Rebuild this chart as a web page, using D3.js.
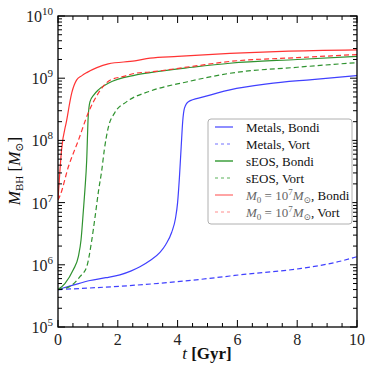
<!DOCTYPE html>
<html><head><meta charset="utf-8">
<script src="https://cdn.jsdelivr.net/npm/d3@7"></script>
<style>body{margin:0;background:#fff}svg{display:block}text{font-family:"Liberation Serif","DejaVu Serif",serif;}</style>
</head><body><svg id="c" width="374" height="374"></svg>
<script>
// ---- data (t in Gyr, M_BH in solar masses) ----
const metalsBondiT = [0, 0.5, 1.07, 1.6, 2.07, 2.45, 2.74, 3.08, 3.41, 3.6, 3.8, 3.93, 4.0, 4.06, 4.12, 4.17, 4.23, 4.36, 4.86, 5.75, 7, 8.5, 10];
const metalsBondiM = [4.0e5, 4.7e5, 5.6e5, 6.2e5, 6.9e5, 8.0e5, 9.3e5, 1.17e6, 1.58e6, 2.1e6, 3.3e6, 5.6e6, 1.0e7, 2.5e7, 7.9e7, 2.0e8, 3.3e8, 4.2e8, 5.0e8, 6.5e8, 8.1e8, 9.5e8, 1.1e9];
const metalsVortT = [0, 2.58, 4.08, 5.75, 6.09, 8.09, 9.3, 10];
const metalsVortM = [4.0e5, 4.7e5, 5.4e5, 6.6e5, 6.9e5, 8.7e5, 1.1e6, 1.35e6];
const seosBondiT = [0, 0.23, 0.51, 0.68, 0.77, 0.85, 0.9, 0.96, 1.01, 1.07, 1.2, 1.35, 1.68, 2.58, 3.08, 4.5, 5.75, 8, 10];
const seosBondiM = [4.0e5, 5.0e5, 8.3e5, 1.35e6, 2.5e6, 7.6e6, 1.6e7, 4.8e7, 2.4e8, 4.2e8, 5.4e8, 6.5e8, 8.3e8, 1.12e9, 1.23e9, 1.5e9, 1.74e9, 2.0e9, 2.24e9];
const seosVortT = [0, 0.4, 0.74, 0.96, 1.13, 1.24, 1.36, 1.46, 1.55, 1.68, 1.9, 2.3, 3.08, 4.3, 5.75, 8, 10];
const seosVortM = [4.0e5, 4.5e5, 6.5e5, 9.3e5, 2.5e6, 5.9e6, 1.6e7, 3.2e7, 7.1e7, 1.6e8, 2.8e8, 4.2e8, 6.2e8, 8.7e8, 1.2e9, 1.5e9, 1.78e9];
const m0BondiT = [0, 0.12, 0.29, 0.46, 0.62, 0.8, 0.96, 1.3, 1.68, 2.57, 3.08, 4, 5.75, 7.5, 10];
const m0BondiM = [1.1e7, 7.1e7, 2.1e8, 5.8e8, 9.3e8, 1.1e9, 1.23e9, 1.48e9, 1.7e9, 1.9e9, 2.1e9, 2.24e9, 2.5e9, 2.7e9, 2.85e9];
const m0VortT = [0, 0.07, 0.35, 0.68, 1.01, 1.35, 1.74, 2.2, 2.58, 3.08, 4.5, 5.75, 8, 10];
const m0VortM = [1.1e7, 1.3e7, 3.8e7, 1.0e8, 2.75e8, 5.75e8, 9.3e8, 1.07e9, 1.2e9, 1.26e9, 1.55e9, 1.86e9, 2.14e9, 2.4e9];
const xTicks = [0, 2, 4, 6, 8, 10];
const yExponents = [5, 6, 7, 8, 9, 10];
const legendLabels = ["Metals, Bondi", "Metals, Vort", "sEOS, Bondi", "sEOS, Vort", "M0 Bondi", "M0 Vort"];

const series = [
  {t: metalsBondiT, m: metalsBondiM, color: "#4040ff", lcolor: "#7272ff", dash: null},
  {t: metalsVortT, m: metalsVortM, color: "#4040ff", lcolor: "#7272ff", dash: "5,3"},
  {t: seosBondiT, m: seosBondiM, color: "#2f922f", lcolor: "#4aa64a", dash: null},
  {t: seosVortT, m: seosVortM, color: "#2f922f", lcolor: "#5ab25a", dash: "5,3"},
  {t: m0BondiT, m: m0BondiM, color: "#ff3434", lcolor: "#ff8e8e", dash: null},
  {t: m0VortT, m: m0VortM, color: "#ff3434", lcolor: "#ff8e8e", dash: "5,3"}
];

const svg = d3.select("#c");
const L = 58, R = 357, T = 16, B = 327;
const x = d3.scaleLinear().domain([0, 10]).range([L, R]);
const y = d3.scaleLog().domain([1e5, 1e10]).range([B, T]);

svg.append("clipPath").attr("id","clip").append("rect").attr("x",L).attr("y",T).attr("width",R-L).attr("height",B-T);

const line = d3.line().x(d => x(d[0])).y(d => y(d[1])).curve(d3.curveMonotoneX);
const g = svg.append("g").attr("clip-path","url(#clip)");
series.forEach(s => {
  const pts = s.t.map((t,i) => [t, s.m[i]]);
  g.append("path").attr("d", line(pts)).attr("fill","none").attr("stroke", s.color)
    .attr("stroke-width", 1.2).attr("stroke-dasharray", s.dash);
});

// ticks (inward, all four sides)
const tk = svg.append("g").attr("stroke","#000").attr("stroke-width",1);
const xMinor = d3.range(0, 10.01, 0.5);
xMinor.forEach(v => {
  const major = Math.abs(v/2 - Math.round(v/2)) < 1e-9;
  const len = major ? 7 : 4;
  tk.append("line").attr("x1",x(v)).attr("x2",x(v)).attr("y1",B).attr("y2",B-len);
  tk.append("line").attr("x1",x(v)).attr("x2",x(v)).attr("y1",T).attr("y2",T+len);
});
for (let e = 5; e < 10; e++) {
  for (let k = 1; k <= 9; k++) {
    const v = k * Math.pow(10, e);
    const len = k === 1 ? 7 : 4;
    tk.append("line").attr("x1",L).attr("x2",L+len).attr("y1",y(v)).attr("y2",y(v));
    tk.append("line").attr("x1",R).attr("x2",R-len).attr("y1",y(v)).attr("y2",y(v));
  }
}
tk.append("line").attr("x1",L).attr("x2",L+7).attr("y1",y(1e10)).attr("y2",y(1e10));
tk.append("line").attr("x1",R).attr("x2",R-7).attr("y1",y(1e10)).attr("y2",y(1e10));

// frame
svg.append("rect").attr("x",L).attr("y",T).attr("width",R-L).attr("height",B-T)
  .attr("fill","none").attr("stroke","#000").attr("stroke-width",1.3);

// x tick labels
xTicks.forEach(v => {
  svg.append("text").attr("x", x(v)).attr("y", B+18).attr("text-anchor","middle")
    .attr("font-size",16).attr("fill","#222").text(v);
});
// y tick labels 10^n
yExponents.forEach(e => {
  const t = svg.append("text").attr("x", L-5).attr("y", y(Math.pow(10,e))+6).attr("text-anchor","end")
    .attr("font-size",16).attr("fill","#222");
  t.append("tspan").text("10");
  t.append("tspan").attr("dy",-7).attr("font-size",11).text(e);
});

// x axis title
const xt = svg.append("text").attr("x", 207).attr("y", 359).attr("text-anchor","middle").attr("font-size",17).attr("fill","#111");
xt.append("tspan").attr("font-style","italic").text("t");
xt.append("tspan").attr("font-weight","bold").text(" [Gyr]");

// y axis title
const yt = svg.append("text").attr("transform","translate(20,171) rotate(-90)").attr("text-anchor","middle").attr("font-size",17).attr("fill","#111");
yt.append("tspan").attr("font-style","italic").text("M");
yt.append("tspan").attr("font-size",11).attr("dy",3).text("BH");
yt.append("tspan").attr("dy",-3).text(" [");
yt.append("tspan").attr("font-style","italic").text("M");
yt.append("tspan").attr("font-size",11).attr("dy",3).text("⊙");
yt.append("tspan").attr("dy",-3).text("]");

// legend
const lg = svg.append("g");
lg.append("rect").attr("x",208).attr("y",119).attr("width",144).attr("height",105).attr("rx",3)
  .attr("fill","#fff").attr("stroke","#b0b0b0").attr("stroke-width",1);
series.forEach((s,i) => {
  const yy = 127 + i*17;
  lg.append("line").attr("x1",215).attr("x2",233).attr("y1",yy).attr("y2",yy)
    .attr("stroke", s.lcolor).attr("stroke-width", s.dash ? 1.2 : 1.6).attr("stroke-dasharray", s.dash ? "3,3" : null);
  const tx = lg.append("text").attr("x",246).attr("y",yy+4.5).attr("font-size",13).attr("fill","#111");
  if (i < 4) {
    tx.text(legendLabels[i]);
  } else {
    const mt = tx.append("tspan").attr("fill","#666");
    mt.append("tspan").attr("font-style","italic").text("M");
    mt.append("tspan").attr("font-size",9).attr("dy",3).text("0");
    mt.append("tspan").attr("dy",-3).text(" = 10");
    mt.append("tspan").attr("font-size",9).attr("dy",-5).text("7");
    mt.append("tspan").attr("dy",5).attr("font-style","italic").text("M");
    mt.append("tspan").attr("font-size",9).attr("dy",3).text("⊙");
    tx.append("tspan").attr("dy",-3).text(i === 4 ? ", Bondi" : ", Vort");
  }
});
</script></body></html>
